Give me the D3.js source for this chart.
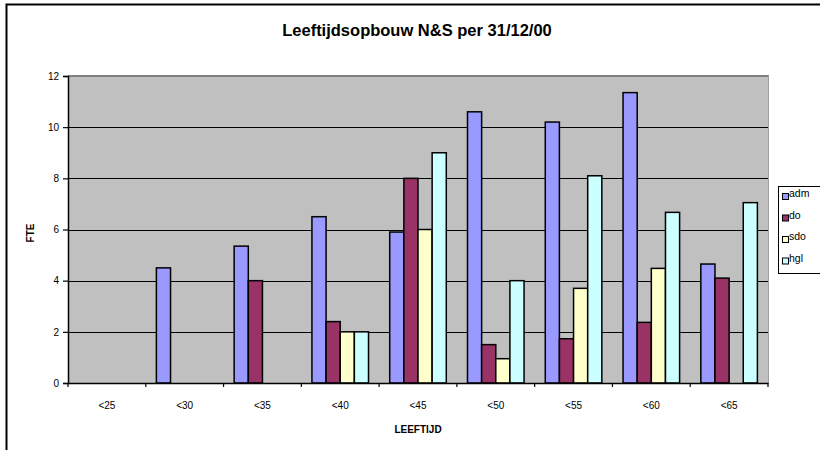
<!DOCTYPE html>
<html><head><meta charset="utf-8">
<script src="https://cdn.jsdelivr.net/npm/d3@7"></script>
<style>body{margin:0;background:#fff}svg{display:block;font-family:Arial,"Liberation Sans",sans-serif}</style>
</head><body><svg id="c" width="820" height="450"></svg>
<script>
const categories = ["<25","<30","<35","<40","<45","<50","<55","<60","<65"];
const seriesNames = ["adm","do","sdo","hgl"];
const adm = [null,4.5,5.35,6.5,5.9,10.6,10.2,11.35,4.65];
const dO  = [null,null,4,2.4,8,1.5,1.73,2.37,4.1];
const sdo = [null,null,null,2,6,0.95,3.7,4.48,null];
const hgl = [null,null,null,2,9,4,8.1,6.67,7.05];
const colors = ["#9999FF","#993366","#FFFFCC","#CCFFFF"];
const yTicks = [0,2,4,6,8,10,12];
const title = "Leeftijdsopbouw N&S per 31/12/00";
const xTitle = "LEEFTIJD", yTitle = "FTE";

const values = [adm,dO,sdo,hgl];
const svg = d3.select("#c");
const L=68,R=768,T=76,B=383;

// outer frame (top & left visible)
svg.append("rect").attr("x",6.5).attr("y",4.5).attr("width",830).attr("height",460)
  .attr("fill","none").attr("stroke","#000").attr("stroke-width",2);

svg.append("text").attr("x",417).attr("y",36).attr("text-anchor","middle")
  .attr("font-weight","bold").attr("font-size",16.5).text(title);

const x0 = d3.scaleBand().domain(categories).range([L,R]).paddingInner(0).paddingOuter(0);
const x1 = d3.scaleBand().domain(seriesNames).range([0,x0.bandwidth()]).paddingOuter(0.75).paddingInner(0);
const y = d3.scaleLinear().domain([0,12]).range([B,T]);

svg.append("rect").attr("x",L).attr("y",T).attr("width",R-L).attr("height",B-T).attr("fill","#C0C0C0");
// gridlines
svg.append("g").selectAll("line").data(yTicks.filter(t=>t>0&&t<12)).join("line")
  .attr("x1",L).attr("x2",R).attr("y1",d=>Math.round(y(d))+0.5).attr("y2",d=>Math.round(y(d))+0.5)
  .attr("stroke","#000").attr("stroke-width",1);
// plot border top/right gray
svg.append("line").attr("x1",L).attr("x2",R+1).attr("y1",T).attr("y2",T).attr("stroke","#808080").attr("stroke-width",2);
svg.append("line").attr("x1",R+0.5).attr("x2",R+0.5).attr("y1",T).attr("y2",B).attr("stroke","#A0A0A0").attr("stroke-width",1);

// bars
const g = svg.append("g");
categories.forEach((c,i)=>{
  seriesNames.forEach((s,j)=>{
    const v = values[j][i];
    if(v==null) return;
    g.append("rect")
      .attr("x",x0(c)+x1(s)).attr("y",y(v)).attr("width",x1.bandwidth()).attr("height",y(0)-y(v))
      .attr("fill",colors[j]).attr("stroke","#000").attr("stroke-width",1.5);
  });
});

// y axis
const ya = d3.axisLeft(y).tickValues(yTicks).tickSize(5).tickPadding(4);
const yg = svg.append("g").attr("transform",`translate(${L},0)`).call(ya);
yg.select(".domain").attr("stroke","#000").attr("stroke-width",1.5);
yg.selectAll("text").attr("font-size",10).attr("font-family","Arial, 'Liberation Sans', sans-serif");
yg.selectAll(".tick line").attr("stroke-width",1.2);

// x axis
const xa = d3.axisBottom(x0).tickSize(0).tickPadding(19);
const xg = svg.append("g").attr("transform",`translate(0,${B})`).call(xa);
xg.select(".domain").attr("stroke","#000").attr("stroke-width",1.5);
xg.selectAll("text").attr("font-size",10).attr("font-family","Arial, 'Liberation Sans', sans-serif");
// category boundary ticks
xg.append("g").selectAll("line").data(categories.slice(1).concat([null])).join("line")
  .attr("x1",(d,i)=>L+(i+1)*x0.step()).attr("x2",(d,i)=>L+(i+1)*x0.step())
  .attr("y1",0).attr("y2",4).attr("stroke","#000").attr("stroke-width",1.2);
xg.append("line").attr("x1",L).attr("x2",L).attr("y1",0).attr("y2",4).attr("stroke","#000").attr("stroke-width",1.2);

svg.append("text").attr("x",418).attr("y",433).attr("text-anchor","middle")
  .attr("font-weight","bold").attr("font-size",10).text(xTitle);
svg.append("text").attr("transform","translate(34,233) rotate(-90)").attr("text-anchor","middle")
  .attr("font-weight","bold").attr("font-size",10).text(yTitle);

// legend
const lg = svg.append("g");
lg.append("rect").attr("x",778.5).attr("y",186.5).attr("width",60).attr("height",87)
  .attr("fill","#fff").attr("stroke","#000").attr("stroke-width",1);
seriesNames.forEach((s,j)=>{
  const cy = 196 + j*21.5;
  lg.append("rect").attr("x",782.5).attr("y",cy-2.5).attr("width",6).attr("height",6)
    .attr("fill",colors[j]).attr("stroke","#000").attr("stroke-width",1);
  lg.append("text").attr("x",789).attr("y",cy+1).attr("font-size",10.5).text(s);
});
</script></body></html>
